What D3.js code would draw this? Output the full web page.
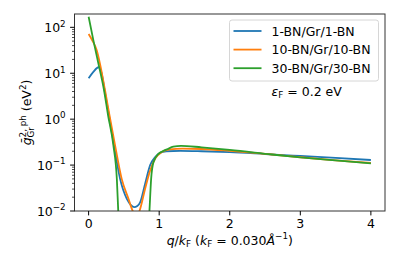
<!DOCTYPE html>
<html lang="en">
<head>
<meta charset="UTF-8">
<title>Electron-phonon coupling vs q</title>
<script src="https://d3js.org/d3.v7.min.js"></script>
<style>
    body { margin: 0; background: #fff; }
    svg text { font-family: 'DejaVu Sans', sans-serif; fill: #000; }
</style>
</head>
<body>
<svg id="chart" width="399" height="266"></svg>
<script>
// values (q in units of k_F, g in eV^2)
const seriesNames = ["1-BN/Gr/1-BN", "10-BN/Gr/10-BN", "30-BN/Gr/30-BN"];
const seriesColors = ["#1f77b4", "#ff7f0e", "#2ca02c"];

const qBlue = [0, 0.067, 0.14, 0.18, 0.232, 0.28, 0.36, 0.446, 0.54, 0.6, 0.645, 0.69, 0.73, 0.8, 0.872, 0.943, 1.014, 1.1, 1.3, 1.6, 2.0, 2.5, 3.0, 3.5, 4.0];
const gBlue = [7.76, 10.7, 13.5, 10.5, 3.8, 1.43, 0.269, 0.0501, 0.0186, 0.0135, 0.0122, 0.0129, 0.0155, 0.0389, 0.100, 0.149, 0.186, 0.200, 0.204, 0.200, 0.191, 0.174, 0.158, 0.143, 0.129];

const qOrange = [0, 0.057, 0.114, 0.16, 0.232, 0.295, 0.375, 0.469, 0.564, 0.625, 0.67, 0.72, 0.8, 0.872, 0.943, 1.037, 1.15, 1.33, 1.6, 2.0, 2.6, 3.0, 3.5, 4.0];
const gOrange = [71.6, 50.1, 32.0, 16.4, 4.31, 1.23, 0.269, 0.0501, 0.0186, 0.0100, 0.0079, 0.0100, 0.0302, 0.0759, 0.138, 0.192, 0.219, 0.229, 0.224, 0.204, 0.170, 0.148, 0.127, 0.111];

const qGreen = [0, 0.067, 0.138, 0.218, 0.275, 0.351, 0.40, 0.42, 0.45, 0.5, 0.65, 0.8, 0.84, 0.862, 0.886, 0.919, 0.99, 1.05, 1.12, 1.2, 1.31, 1.6, 2.0, 2.6, 3.0, 3.5, 4.0];
const gGreen = [170, 52.5, 16.4, 4.31, 1.23, 0.269, 0.0501, 0.0100, 0.00158, 0.000251, 0.0000316, 0.000251, 0.00251, 0.0100, 0.0501, 0.116, 0.176, 0.200, 0.224, 0.251, 0.263, 0.243, 0.214, 0.170, 0.147, 0.126, 0.109];

const xTicks = [0, 1, 2, 3, 4];
const yTickExps = [-2, -1, 0, 1, 2];

const series = [
    { name: seriesNames[0], color: seriesColors[0], q: qBlue, g: gBlue },
    { name: seriesNames[1], color: seriesColors[1], q: qOrange, g: gOrange },
    { name: seriesNames[2], color: seriesColors[2], q: qGreen, g: gGreen }
];

const plotLeft = 74.5, plotRight = 385, plotTop = 14, plotBottom = 211;
const fs = 12.5, fsSmall = 8.75;

const svg = d3.select("#chart");

const x = d3.scaleLinear().domain([-0.2, 4.2]).range([plotLeft, plotRight]);
const y = d3.scaleLog().domain([1e-2, 195]).range([plotBottom, plotTop]);

svg.append("defs").append("clipPath").attr("id", "plot-clip")
    .append("rect")
    .attr("x", plotLeft).attr("y", plotTop)
    .attr("width", plotRight - plotLeft).attr("height", plotBottom - plotTop);

// curves
const line = d3.line()
    .x(d => x(d[0]))
    .y(d => y(d[1]))
    .curve(d3.curveMonotoneX);

svg.append("g").attr("clip-path", "url(#plot-clip)")
    .selectAll("path")
    .data(series)
    .enter().append("path")
    .attr("d", s => line(s.q.map((q, i) => [q, s.g[i]])))
    .attr("fill", "none")
    .attr("stroke", s => s.color)
    .attr("stroke-width", 1.8);

// frame
svg.append("rect")
    .attr("x", plotLeft).attr("y", plotTop)
    .attr("width", plotRight - plotLeft).attr("height", plotBottom - plotTop)
    .attr("fill", "none")
    .attr("stroke", "#333")
    .attr("stroke-width", 1);

// x axis ticks
const xt = svg.append("g");
xt.selectAll("line").data(xTicks).enter().append("line")
    .attr("x1", d => x(d)).attr("x2", d => x(d))
    .attr("y1", plotBottom).attr("y2", plotBottom + 4.4)
    .attr("stroke", "#000").attr("stroke-width", 1);
xt.selectAll("text").data(xTicks).enter().append("text")
    .attr("x", d => x(d)).attr("y", 227.5)
    .attr("text-anchor", "middle")
    .attr("font-size", fs)
    .text(d => d);

// y axis ticks (log, with minor ticks)
const minor = [];
yTickExps.forEach(k => {
    for (let m = 2; m <= 9; m++) {
        const v = m * Math.pow(10, k);
        if (v <= y.domain()[1]) minor.push(v);
    }
});
svg.append("g").selectAll("line").data(minor).enter().append("line")
    .attr("x1", plotLeft - 2.5).attr("x2", plotLeft)
    .attr("y1", d => y(d)).attr("y2", d => y(d))
    .attr("stroke", "#000").attr("stroke-width", 0.7);

const yt = svg.append("g");
yt.selectAll("line").data(yTickExps).enter().append("line")
    .attr("x1", plotLeft - 4.4).attr("x2", plotLeft)
    .attr("y1", d => y(Math.pow(10, d))).attr("y2", d => y(Math.pow(10, d)))
    .attr("stroke", "#000").attr("stroke-width", 1);
const ylab = yt.selectAll("text").data(yTickExps).enter().append("text")
    .attr("x", plotLeft - 8.8)
    .attr("y", d => y(Math.pow(10, d)) + 4.5)
    .attr("text-anchor", "end")
    .attr("font-size", fs);
ylab.append("tspan").text("10");
ylab.append("tspan")
    .attr("font-size", fsSmall)
    .attr("dy", -5.2)
    .text(d => d < 0 ? "\u2212" + (-d) : String(d));

// x label
const xl = svg.append("text")
    .attr("x", (plotLeft + plotRight) / 2)
    .attr("y", 244.5)
    .attr("text-anchor", "middle")
    .attr("font-size", fs);
xl.append("tspan").attr("font-style", "italic").text("q");
xl.append("tspan").text("/");
xl.append("tspan").attr("font-style", "italic").text("k");
xl.append("tspan").attr("font-size", fsSmall).attr("dy", 2.4).text("F");
xl.append("tspan").attr("dy", -2.4).text(" (");
xl.append("tspan").attr("font-style", "italic").text("k");
xl.append("tspan").attr("font-size", fsSmall).attr("dy", 2.4).text("F");
xl.append("tspan").attr("dy", -2.4).text(" = 0.030");
xl.append("tspan").attr("font-style", "italic").text("Å");
xl.append("tspan").attr("font-size", fsSmall).attr("dy", -5.2).text("\u22121");
xl.append("tspan").attr("dy", 5.2).text(")");

// y label
const yl = svg.append("text")
    .attr("transform", "translate(31," + ((plotTop + plotBottom) / 2) + ") rotate(-90)")
    .attr("text-anchor", "middle")
    .attr("font-size", fs);
yl.append("tspan").attr("font-style", "italic").text("\u1E21");
const sup = yl.append("tspan").attr("font-size", fsSmall).attr("dy", -5.5).text("2, ph");
const supLen = sup.node().getComputedTextLength();
const sub = yl.append("tspan").attr("font-size", fsSmall).attr("dx", -supLen).attr("dy", 8.8).text("Gr");
const subLen = sub.node().getComputedTextLength();
yl.append("tspan").attr("dx", Math.max(0, supLen - subLen)).attr("dy", -3.3).text(" (eV");
yl.append("tspan").attr("font-size", fsSmall).attr("dy", -5.2).text("2");
yl.append("tspan").attr("dy", 5.2).text(")");

// legend
const lg = svg.append("g");
lg.append("rect")
    .attr("x", 229.5).attr("y", 20)
    .attr("width", 149).attr("height", 61)
    .attr("rx", 2.5)
    .attr("fill", "#fff").attr("fill-opacity", 0.8)
    .attr("stroke", "#d6d6d6").attr("stroke-width", 1);
const rows = lg.selectAll("g.row").data(series).enter().append("g")
    .attr("class", "row")
    .attr("transform", (d, i) => "translate(0," + (31 + i * 18.6) + ")");
rows.append("line")
    .attr("x1", 233.5).attr("x2", 261.5)
    .attr("stroke", d => d.color).attr("stroke-width", 1.8);
rows.append("text")
    .attr("x", 271.5).attr("y", 4.5)
    .attr("font-size", fs)
    .text(d => d.name);

// Fermi energy annotation
const ef = svg.append("text")
    .attr("x", 271.5).attr("y", 96)
    .attr("font-size", fs);
ef.append("tspan").attr("font-style", "italic").text("ε");
ef.append("tspan").attr("font-size", fsSmall).attr("dy", 2.4).text("F");
ef.append("tspan").attr("dy", -2.4).text(" = 0.2 eV");
</script>
</body>
</html>
